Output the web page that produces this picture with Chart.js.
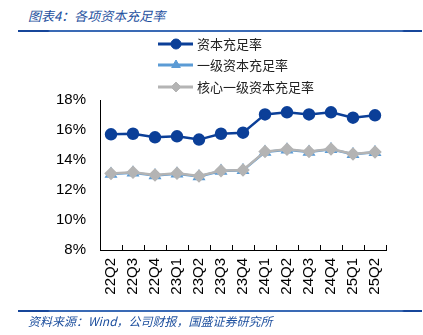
<!DOCTYPE html>
<html>
<head>
<meta charset="utf-8">
<script src="https://cdn.jsdelivr.net/npm/chart.js@4"></script>
<style>
  body { margin: 0; background: #fff; }
  #wrap { position: relative; width: 423px; height: 335px; }
  #title, #source {
    position: absolute; left: 28px; color: #1d4f9e; font-style: italic;
    font-family: "Noto Sans CJK SC", sans-serif; white-space: nowrap;
  }
  #title { top: 6px; font-size: 13px; }
  #source { top: 312px; font-size: 12px; }
  .rule {
    position: absolute; left: 18px; width: 404px; height: 2px;
    background: linear-gradient(to right, #16469a 0, #16469a 30px, #3a6ab5 32px, #3a6ab5 384px, #16469a 386px);
  }
  canvas { position: absolute; left: 0; top: 0; }
</style>
</head>
<body>
<div id="wrap">
  <div id="title">图表4：各项资本充足率</div>
  <div class="rule" style="top:30px"></div>
  <canvas id="chart1" width="423" height="335"></canvas>
  <div class="rule" style="top:310px"></div>
  <div id="source">资料来源：Wind，公司财报，国盛证券研究所</div>
</div>
<script>
var quarters = ['22Q2', '22Q3', '22Q4', '23Q1', '23Q2', '23Q3', '23Q4', '24Q1', '24Q2', '24Q3', '24Q4', '25Q1', '25Q2'];
var capitalRatio = [15.71, 15.75, 15.51, 15.58, 15.36, 15.75, 15.82, 17.04, 17.18, 17.04, 17.18, 16.82, 16.98];
var tier1Ratio = [13.06, 13.15, 12.97, 13.08, 12.90, 13.27, 13.31, 14.53, 14.69, 14.54, 14.71, 14.38, 14.51];
var coreTier1Ratio = [13.10, 13.18, 13.00, 13.11, 12.93, 13.29, 13.33, 14.56, 14.71, 14.56, 14.73, 14.40, 14.53];
var yTicks = [8, 10, 12, 14, 16, 18];

var seriesNames = ['资本充足率', '一级资本充足率', '核心一级资本充足率'];
var seriesColors = ['#0b3f98', '#5b9bd5', '#b4b4b4'];
var seriesPoints = ['circle', 'triangle', 'rectRot'];

// legend with line + marker, drawn above the plot
var lineLegend = {
    id: 'lineLegend',
    afterDraw: function (chart) {
        var c = chart.ctx;
        var rows = [44, 65, 87];
        chart.data.datasets.forEach(function (ds, i) {
            var y = rows[i];
            c.save();
            c.strokeStyle = ds.borderColor;
            c.fillStyle = ds.pointBackgroundColor;
            c.lineWidth = 3;
            c.beginPath();
            c.moveTo(158, y);
            c.lineTo(193, y);
            c.stroke();
            c.lineWidth = 1;
            Chart.helpers.drawPoint(c, {
                pointStyle: ds.pointStyle, radius: ds.pointRadius, borderWidth: 1
            }, 176, y);
            c.fillStyle = '#222';
            c.font = '13px "Noto Sans CJK SC"';
            c.textBaseline = 'middle';
            c.fillText(ds.label, 197, y);
            c.restore();
        });
    }
};

// short inward ticks between categories on the x axis
var innerTicks = {
    id: 'innerTicks',
    afterDraw: function (chart) {
        var x = chart.scales.x, c = chart.ctx;
        var step = x.width / quarters.length;
        c.save();
        c.strokeStyle = '#000';
        c.lineWidth = 1;
        c.beginPath();
        for (var i = 1; i <= quarters.length; i++) {
            var px = Math.round(x.left + step * i) + 0.5;
            c.moveTo(px, x.top);
            c.lineTo(px, x.top - 5);
        }
        c.stroke();
        c.restore();
    }
};

function series(i, data, order) {
    return {
        label: seriesNames[i],
        data: data,
        borderColor: seriesColors[i],
        backgroundColor: seriesColors[i],
        pointBackgroundColor: seriesColors[i],
        pointBorderColor: seriesColors[i],
        pointStyle: seriesPoints[i],
        pointRadius: 5,
        borderWidth: 2.5,
        order: order
    };
}

var ctx1 = document.getElementById('chart1').getContext('2d');
var chart1 = new Chart(ctx1, {
    type: 'line',
    data: {
        labels: quarters,
        datasets: [
            series(0, capitalRatio, 0),
            series(1, tier1Ratio, 2),
            series(2, coreTier1Ratio, 1)
        ]
    },
    options: {
        responsive: false,
        animation: false,
        layout: { padding: { left: 56, right: 37, top: 100, bottom: 35 } },
        plugins: { legend: { display: false }, tooltip: { enabled: false } },
        scales: {
            x: {
                offset: true,
                grid: { display: false, drawTicks: false },
                border: { color: '#000', width: 1 },
                ticks: {
                    color: '#000', padding: 8, minRotation: 90, maxRotation: 90,
                    font: { family: '"Liberation Sans", Arial', size: 15 }
                },
                afterFit: function (s) { s.height = 50; }
            },
            y: {
                min: 8, max: 18,
                grid: { display: false, drawTicks: false },
                border: { color: '#000', width: 1 },
                afterBuildTicks: function (s) {
                    s.ticks = yTicks.map(function (v) { return { value: v }; });
                },
                ticks: {
                    color: '#000', padding: 14,
                    font: { family: '"Liberation Sans", Arial', size: 15 },
                    callback: function (v) { return v + '%'; }
                },
                afterFit: function (s) { s.width = 44; }
            }
        }
    },
    plugins: [lineLegend, innerTicks]
});
</script>
</body>
</html>
